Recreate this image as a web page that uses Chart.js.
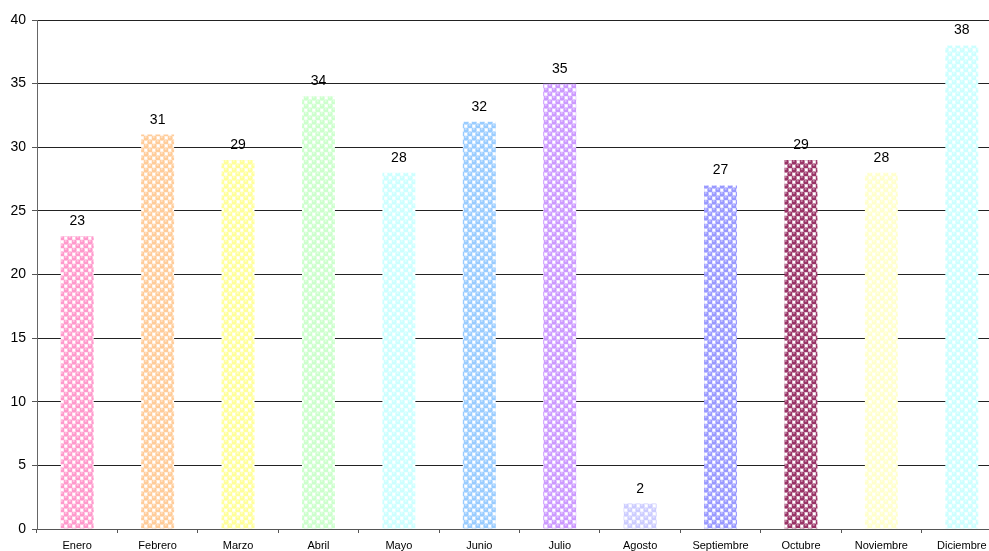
<!DOCTYPE html>
<html>
<head>
<meta charset="utf-8">
<script src="https://cdn.jsdelivr.net/npm/chart.js@4/dist/chart.umd.min.js"></script>
<style>
  html, body { margin: 0; padding: 0; overflow: hidden; background: #fff; }
  #wrap { position: absolute; left: 0; top: 0; width: 1002px; height: 551px; }
</style>
</head>
<body>
<div id="wrap"><canvas id="chart"></canvas></div>
<script>
const months = ['Enero', 'Febrero', 'Marzo', 'Abril', 'Mayo', 'Junio', 'Julio',
  'Agosto', 'Septiembre', 'Octubre', 'Noviembre', 'Diciembre'];
const values = [23, 31, 29, 34, 28, 32, 35, 2, 27, 29, 28, 38];
const colors = ['#FF99CC', '#FFCC99', '#FFFF99', '#CCFFCC', '#CCFFFF', '#99CCFF',
  '#CC99FF', '#CCCCFF', '#9999FF', '#993366', '#FFFFCC', '#CCFFFF'];

// bubble checker pattern like the old Excel fill
function bubbles(color) {
  const c = document.createElement('canvas');
  c.width = 8; c.height = 8;
  const g = c.getContext('2d');
  g.fillStyle = '#fff';
  g.fillRect(0, 0, 8, 8);
  g.globalAlpha = 0.5;
  g.fillStyle = color;
  g.fillRect(0, 0, 8, 8);
  g.globalAlpha = 1;
  g.fillStyle = '#fff';
  g.fillRect(4.5, 0.5, 3, 3);
  g.fillRect(0.5, 4.5, 3, 3);
  for (const [x, y] of [[2, 2], [6, 6]]) {
    g.fillStyle = color;
    g.beginPath();
    g.arc(x, y, 2.6, 0, Math.PI * 2);
    g.fill();
    g.fillStyle = 'rgba(255,255,255,0.75)';
    g.fillRect(x - 1.2, y - 1.5, 1.8, 1);
  }
  return g.createPattern(c, 'repeat');
}

const valueLabels = {
  id: 'valueLabels',
  afterDatasetsDraw(chart) {
    const ctx = chart.ctx;
    const meta = chart.getDatasetMeta(0);
    ctx.save();
    ctx.font = '14px "Liberation Sans", Arial, sans-serif';
    ctx.fillStyle = '#000';
    ctx.textAlign = 'center';
    ctx.textBaseline = 'alphabetic';
    meta.data.forEach((bar, i) => {
      ctx.fillText(values[i], bar.x, bar.y - 11);
    });
    ctx.restore();
  }
};

new Chart(document.getElementById('chart'), {
  type: 'bar',
  data: {
    labels: months,
    datasets: [{
      data: values,
      backgroundColor: colors.map(bubbles),
      borderWidth: 0,
      barPercentage: 0.41,
      categoryPercentage: 1
    }]
  },
  options: {
    responsive: true,
    maintainAspectRatio: false,
    animation: false,
    layout: { padding: { top: 20, right: 0, left: 0, bottom: 0 } },
    plugins: { legend: { display: false }, tooltip: { enabled: false } },
    scales: {
      x: {
        grid: { offset: true, drawOnChartArea: false, tickLength: 4, color: '#555' },
        border: { color: '#555' },
        ticks: {
          color: '#000', padding: 6,
          font: { family: '"Liberation Sans", Arial, sans-serif', size: 11 },
          maxRotation: 0, autoSkip: false
        },
        afterFit(scale) { scale.height = 22; }
      },
      y: {
        min: 0, max: 40,
        ticks: {
          stepSize: 5, color: '#000', padding: 6,
          font: { family: '"Liberation Sans", Arial, sans-serif', size: 14 }
        },
        grid: { color: '#222', tickLength: 5, tickColor: '#555' },
        border: { color: '#666' },
        afterFit(scale) { scale.width = 37; }
      }
    }
  },
  plugins: [valueLabels]
});
</script>
</body>
</html>
